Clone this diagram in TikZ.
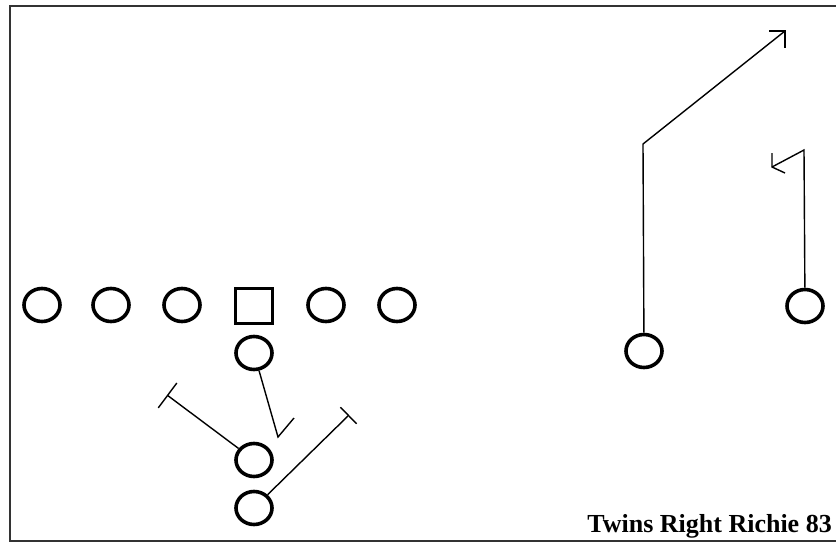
\documentclass[tikz,border=0pt]{standalone}
\usepackage{fontspec}
\setmainfont{Liberation Serif}
\usetikzlibrary{shapes.geometric,arrows.meta}
\tikzset{
  player/.style={ellipse,draw=black,line width=3.6pt,minimum width=36pt,minimum height=33pt,inner sep=0pt},
  center/.style={rectangle,draw=black,line width=2.4pt,minimum width=37pt,minimum height=35pt,inner sep=0pt},
  route/.style={draw=black,line width=1.4pt},
  frame/.style={draw=black!80,line width=2.5pt}
}
\begin{document}
\begin{tikzpicture}[x=1pt,y=-1pt]
\useasboundingbox (0,0) rectangle (836,544);
\fill[white] (0,0) rectangle (836,544);
% frame
\coordinate (f1) at (836,6);
\coordinate (f2) at (10,6);
\coordinate (f3) at (10,541);
\coordinate (f4) at (836,541);
\draw[frame] (f1) -- (f2) -- (f3) -- (f4);
% line
\node[player] (lt) at (42,305) {};
\node[player] (lg) at (111,305) {};
\node[player] (rg0) at (182,305) {};
\node[center] (c) at (254,306) {};
\node[player] (rg) at (326,305) {};
\node[player] (rt) at (397,305) {};
% backs
\node[player] (qb) at (254,353) {};
\node[player] (hb) at (254,460) {};
\node[player] (fb) at (254,508) {};
% receivers
\node[player] (wr1) at (644,351) {};
\node[player] (wr2) at (805,306) {};
% route coordinates
\coordinate (qb1) at (278,437);
\coordinate (qb2) at (294,418);
\coordinate (hb1) at (167,395);
\coordinate (fb1) at (349,415);
\coordinate (w1a) at (643,144);
\coordinate (w1b) at (785,31);
\coordinate (w1c) at (769,31);
\coordinate (w1d) at (785,48);
\coordinate (w2a) at (804,150);
\coordinate (w2b) at (772,167);
\coordinate (w2c) at (772,153);
\coordinate (w2d) at (785,173);
% routes
\draw[route] (qb) -- (qb1) -- (qb2);
\draw[route,-{Bar[width=31pt,line width=1.4pt]}] (hb) -- (hb1);
\draw[route,-{Bar[width=23pt,line width=1.4pt]}] (fb) -- (fb1);
\draw[route] (wr1) -- (w1a) -- (w1b);
\draw[route] (w1c) -- (w1b) -- (w1d);
\draw[route] (wr2) -- (w2a) -- (w2b);
\draw[route] (w2c) -- (w2b) -- (w2d);
% title
\node[anchor=base east,inner sep=0pt,font=\fontsize{26}{30}\selectfont\bfseries] (title) at (832,532) {Twins Right Richie 83};
\end{tikzpicture}
\end{document}
